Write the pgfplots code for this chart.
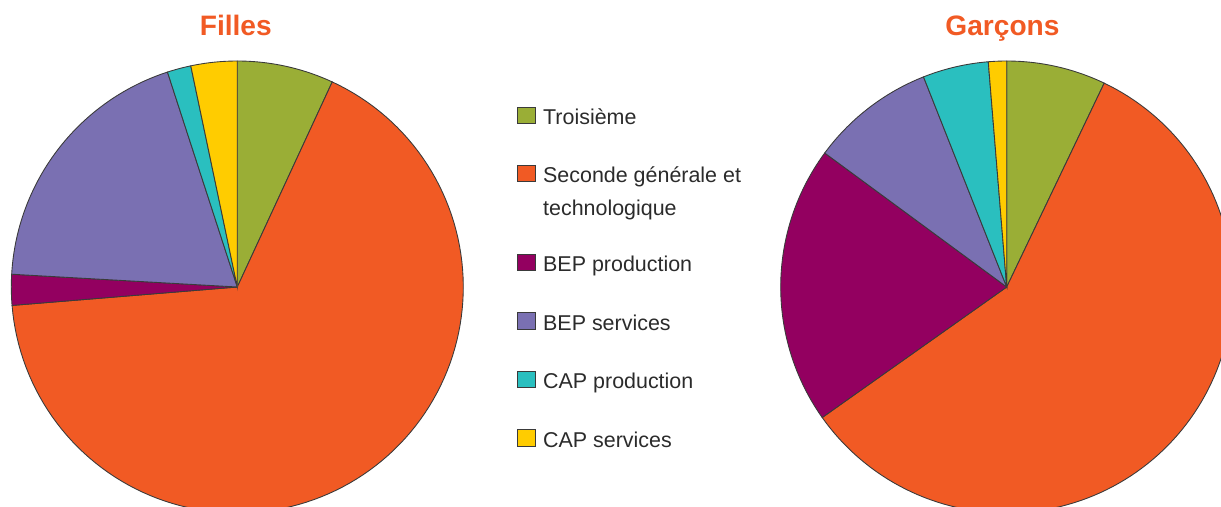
\documentclass[border=0pt]{standalone}
\usepackage{fontspec}
\setmainfont{Liberation Sans}
\usepackage{pgfplots}
\pgfplotsset{compat=1.18}

\definecolor{cTroi}{HTML}{9AAE36}
\definecolor{cSec}{HTML}{F15A24}
\definecolor{cBEPp}{HTML}{930060}
\definecolor{cBEPs}{HTML}{7A70B2}
\definecolor{cCAPp}{HTML}{2ABFBF}
\definecolor{cCAPs}{HTML}{FFCC00}
\definecolor{edge}{HTML}{3A3A3A}
\definecolor{txt}{HTML}{2B2B2B}

% one slice of #1 percent, clockwise from 12 o'clock
\def\cum{0}
\newcommand{\slice}[2]{%
  \pgfmathsetmacro{\sA}{90-3.6*\cum}%
  \pgfmathsetmacro{\newcum}{\cum+#1}%
  \pgfmathsetmacro{\sB}{90-3.6*\newcum}%
  \xdef\cum{\newcum}%
  \edef\doslice{\noexpand\addplot[fill=#2, draw=edge, line width=0.5pt,
    data cs=polar, domain=\sB:\sA, samples=120] ({x},{1}) -- (axis cs:0,0) -- cycle;}%
  \doslice}

\pgfplotsset{
  pie/.style={scale only axis, width=9.04cm, height=9.04cm,
    xmin=-1, xmax=1, ymin=-1, ymax=1, hide axis, clip=false, anchor=center},
}
\newcommand{\lentry}[1]{\raisebox{0pt}[3.5mm][1mm]{#1}}

\begin{document}
\begin{tikzpicture}
\path[use as bounding box] (0,0) rectangle (24.42,10.12);
\clip (0,0) rectangle (24.42,10.12);
\coordinate (legpos) at (10.12,8.13);

% Filles
\begin{axis}[pie, at={(4.746cm,4.38cm)},
  legend cell align=left,
  legend style={at={(legpos)}, anchor=north west, draw=none, fill=none,
    inner sep=0pt, outer sep=0pt, row sep=7.1mm, column sep=1.4mm,
    cells={anchor=base west}, nodes={inner sep=0pt, text depth=, text=txt},
    font=\fontsize{12.2}{14.6}\selectfont},
  legend image code/.code={\draw[#1, line width=0.5pt] (0mm,0.2mm) rectangle (3.6mm,3.5mm);},
]
\def\cum{0}
\slice{6.9}{cTroi}
\slice{66.8}{cSec}
\slice{2.2}{cBEPp}
\slice{19.1}{cBEPs}
\slice{1.7}{cCAPp}
\slice{3.3}{cCAPs}
\legend{{\lentry{Troisième}},
  {\raisebox{0pt}[3.5mm][7.1mm]{\begin{tabular}[t]{@{}l@{}}Seconde générale et\\[1.4mm]technologique\end{tabular}}},
  {\lentry{BEP production}}, {\lentry{BEP services}}, {\lentry{CAP production}}, {\lentry{CAP services}}}
\end{axis}

% Garcons
\begin{axis}[pie, at={(20.134cm,4.38cm)}]
\def\cum{0}
\slice{7.1}{cTroi}
\slice{58.1}{cSec}
\slice{19.9}{cBEPp}
\slice{8.9}{cBEPs}
\slice{4.7}{cCAPp}
\slice{1.3}{cCAPs}
\end{axis}

\node[anchor=base, font=\fontsize{16}{19}\selectfont\bfseries, text=cSec] at (4.716,9.41) {Filles};
\node[anchor=base, font=\fontsize{16}{19}\selectfont\bfseries, text=cSec] at (20.05,9.41) {Garçons};
\end{tikzpicture}
\end{document}
